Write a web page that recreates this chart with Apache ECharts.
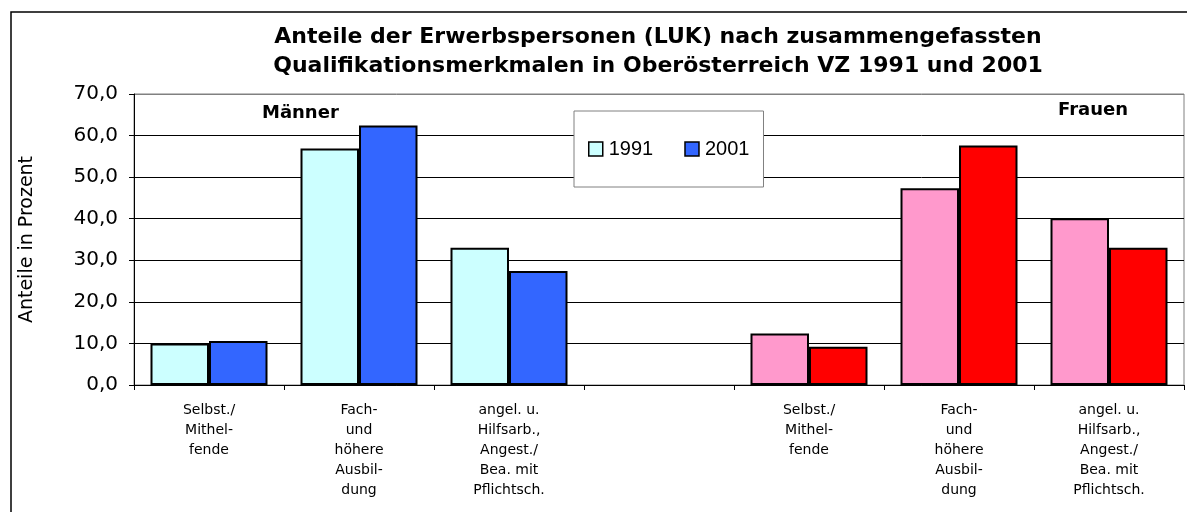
<!DOCTYPE html>
<html>
<head>
<meta charset="utf-8">
<script src="https://cdn.jsdelivr.net/npm/echarts@6/dist/echarts.min.js"></script>
<style>
  html, body { margin: 0; padding: 0; background: #fff; }
  #chart { width: 1187px; height: 512px; }
</style>
</head>
<body>
<div id="chart"></div>
<script>
// Kategorien: Männer (3), Lücke, Frauen (3)
var categories = [
  'Selbst./\nMithel-\nfende',
  'Fach-\nund\nhöhere\nAusbil-\ndung',
  'angel. u.\nHilfsarb.,\nAngest./\nBea. mit\nPflichtsch.',
  '',
  'Selbst./\nMithel-\nfende',
  'Fach-\nund\nhöhere\nAusbil-\ndung',
  'angel. u.\nHilfsarb.,\nAngest./\nBea. mit\nPflichtsch.'
];
var values1991 = [10.0, 56.9, 33.0, null, 12.4, 47.3, 40.1];
var values2001 = [10.6, 62.4, 27.4, null, 9.2, 57.6, 33.0];
var yTicks = [0, 10, 20, 30, 40, 50, 60, 70];

var fontArial = '"Liberation Sans", Arial, sans-serif';
var fontWide = '"DejaVu Sans", sans-serif';
// Farben: Männer blau, Frauen rot
var col1991 = '#CCFFFF', col2001 = '#3366FF';
var colF1991 = '#FF99CC', colF2001 = '#FF0000';

function mkData(vals, femaleColor) {
  return vals.map(function (v, i) {
    if (i >= 4) return { value: v, itemStyle: { color: femaleColor } };
    return v;
  });
}

var myChart = echarts.init(document.getElementById('chart'));
var option = {
  animation: false,
  title: {
    text: 'Anteile der Erwerbspersonen (LUK) nach zusammengefassten\nQualifikationsmerkmalen in Oberösterreich VZ 1991 und 2001',
    left: 653,
    textAlign: 'center',
    top: 18,
    textStyle: { fontFamily: fontWide, fontSize: 22, fontWeight: 'bold', color: '#000', lineHeight: 29 }
  },
  legend: {
    data: ['1991', '2001'],
    left: 574,
    top: 111,
    padding: [28, 14, 28, 14],
    itemGap: 31,
    itemWidth: 14,
    itemHeight: 14,
    icon: 'rect',
    backgroundColor: '#fff',
    borderColor: '#808080',
    borderWidth: 1,
    itemStyle: { borderColor: '#000', borderWidth: 1.5 },
    textStyle: { fontFamily: fontArial, fontSize: 20, color: '#000', padding: [0, 0, 0, 1] }
  },
  grid: { left: 134, right: 3, top: 94, bottom: 127, show: true, borderColor: '#808080', borderWidth: 1 },
  xAxis: {
    type: 'category',
    data: categories,
    axisLine: { lineStyle: { color: '#000', width: 1 } },
    axisTick: { show: true, length: 5, lineStyle: { color: '#000' } },
    axisLabel: { interval: 0, margin: 15, fontFamily: fontWide, fontSize: 14, lineHeight: 20, color: '#000', align: 'center' }
  },
  yAxis: {
    type: 'value',
    min: 0,
    max: 70,
    interval: 10,
    name: 'Anteile in Prozent',
    nameLocation: 'middle',
    nameRotate: 90,
    nameGap: 97,
    nameTextStyle: { fontFamily: fontWide, fontSize: 19, color: '#000' },
    axisLine: { show: true, lineStyle: { color: '#000', width: 1 } },
    axisTick: { show: true, length: 5, lineStyle: { color: '#000' } },
    splitLine: { lineStyle: { color: ['#000', '#000', '#000', '#000', '#000', '#000', '#000', '#808080'], width: 1 } },
    axisLabel: {
      fontFamily: fontWide, fontSize: 20, color: '#000', margin: 16,
      formatter: function (v) { return yTicks.indexOf(v) >= 0 ? v.toFixed(1).replace('.', ',') : ''; }
    }
  },
  series: [
    {
      name: '1991', type: 'bar',
      data: mkData(values1991, colF1991),
      barGap: '0%', barCategoryGap: '22%',
      itemStyle: { color: col1991, borderColor: '#000', borderWidth: 2 }
    },
    {
      name: '2001', type: 'bar',
      data: mkData(values2001, colF2001),
      itemStyle: { color: col2001, borderColor: '#000', borderWidth: 2 }
    }
  ],
  graphic: [
    { type: 'rect', shape: { x: 11, y: 12, width: 1200, height: 520 }, style: { fill: null, stroke: '#000', lineWidth: 1.5 }, z: -1 },
    { type: 'text', left: 262, top: 104, style: { text: 'Männer', font: 'bold 18px ' + fontWide, fill: '#000' } },
    { type: 'text', left: 1058, top: 101, style: { text: 'Frauen', font: 'bold 18px ' + fontWide, fill: '#000' } }
  ]
};
myChart.setOption(option);
</script>
</body>
</html>
